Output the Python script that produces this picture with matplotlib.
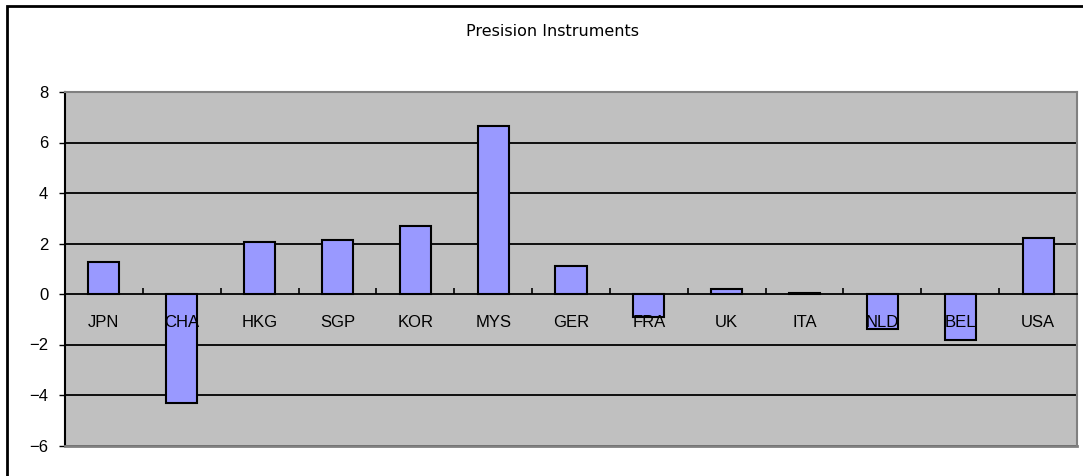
import matplotlib.pyplot as plt
from matplotlib.patches import Rectangle

countries = ["JPN", "CHA", "HKG", "SGP", "KOR", "MYS", "GER",
             "FRA", "UK", "ITA", "NLD", "BEL", "USA"]
values = [1.28, -4.30, 2.05, 2.13, 2.71, 6.64, 1.12,
          -0.92, 0.20, 0.05, -1.37, -1.81, 2.20]
y_ticks = [-6, -4, -2, 0, 2, 4, 6, 8]

plt.rcParams["font.family"] = ["Liberation Sans", "DejaVu Sans"]

W, H = 1083, 476
fig = plt.figure(figsize=(W / 100, H / 100), dpi=100)
ax = fig.add_axes([65 / W, 1 - 445.5 / H, (1077 - 65) / W, (445.5 - 92) / H])
ax.set_facecolor("#C0C0C0")

x = range(len(countries))
ax.bar(x, values, width=0.4, color="#9999FF", edgecolor="black",
       linewidth=1.5, zorder=1)

# gridlines behind the bars
for yv in y_ticks:
    if yv != 0:
        ax.axhline(yv, color="black", linewidth=1.3, zorder=0.8)

ax.set_xlim(-0.5, len(countries) - 0.5)
ax.set_ylim(-6, 8)
ax.set_yticks(y_ticks)
ax.tick_params(axis="y", length=4, width=1, pad=8, labelsize=12)

# category axis sits at zero
ax.spines["bottom"].set_position(("data", 0))
ax.spines["bottom"].set_color("black")
ax.spines["bottom"].set_linewidth(1.3)
ax.spines["left"].set_color("black")
ax.spines["left"].set_linewidth(1.5)
for s in ["top", "right"]:
    ax.spines[s].set_color("#808080")
    ax.spines[s].set_linewidth(1.5)
ax.plot([0, 1], [0, 0], transform=ax.transAxes, color="#808080",
        linewidth=2, clip_on=False, zorder=3)

ax.set_xticks([i + 0.5 for i in range(len(countries) - 1)])
ax.set_xticklabels([])
ax.tick_params(axis="x", which="major", direction="in", length=4, width=1.2)
ax.set_xticks(list(x), minor=True)
ax.set_xticklabels(countries, minor=True)
ax.tick_params(axis="x", which="minor", length=0, pad=15, labelsize=12)

fig.text(552 / W, 1 - 32 / H, "Presision Instruments", ha="center",
         va="center", fontsize=11.5, family="DejaVu Sans")

# outer chart border
fig.patches.append(Rectangle((7 / W, -0.2), 1.2, 1.2 - 6 / H,
                             transform=fig.transFigure, fill=False,
                             edgecolor="black", linewidth=2))

fig.savefig("out.png", dpi=100)
